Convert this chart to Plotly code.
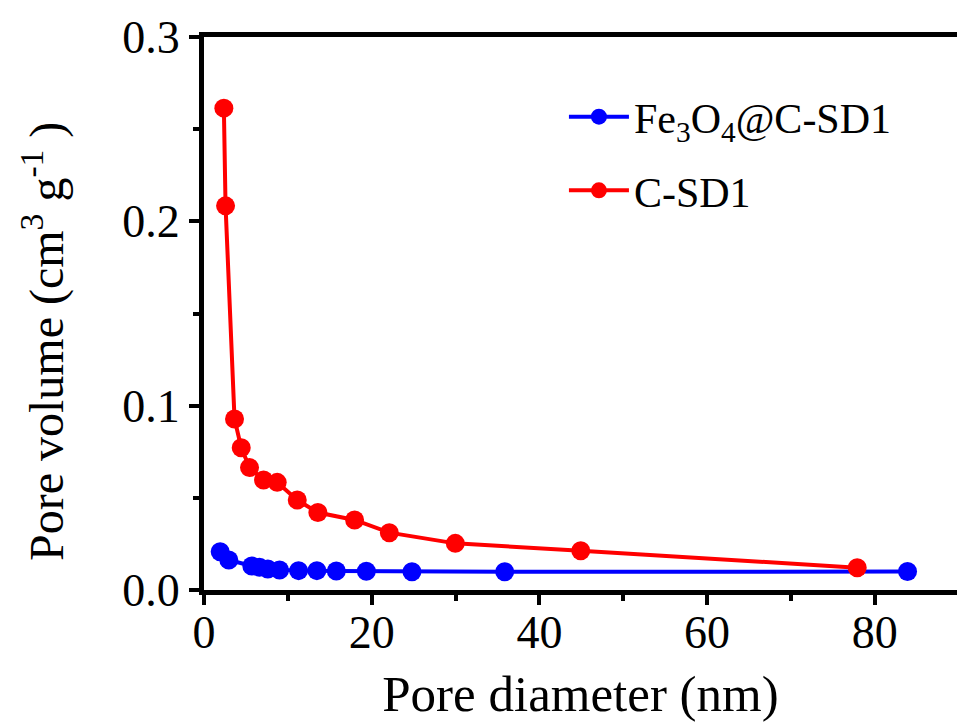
import plotly.graph_objects as go

# Data
fe_x = [1.93, 2.96, 5.70, 6.62, 7.61, 9.01, 11.28, 13.46, 15.78, 19.36, 24.8, 35.86, 83.9]
fe_y = [0.0208, 0.0163, 0.0130, 0.0123, 0.0114, 0.0109, 0.0105, 0.0105, 0.0103, 0.0102, 0.0099, 0.0099, 0.0100]

c_x = [2.37, 2.57, 3.64, 4.44, 5.43, 7.10, 8.73, 11.12, 13.58, 17.96, 22.1, 29.97, 44.93, 77.9]
c_y = [0.2614, 0.2084, 0.0928, 0.0772, 0.0664, 0.0597, 0.0584, 0.0488, 0.0420, 0.0380, 0.0311, 0.0253, 0.0213, 0.0121]

x_ticks = [0, 20, 40, 60, 80]
y_ticks = [0.0, 0.1, 0.2, 0.3]

FONT = "Liberation Serif"

fig = go.Figure()
fig.add_trace(go.Scatter(
    x=fe_x, y=fe_y, mode="lines+markers",
    name="Fe<sub>3</sub>O<sub>4</sub>@C-SD1", legendgroup="a",
    line=dict(color="#0000FF", width=4),
    marker=dict(color="#0000FF", size=19, symbol="circle"),
))
fig.add_trace(go.Scatter(
    x=c_x, y=c_y, mode="lines+markers",
    name="C-SD1", legendgroup="b",
    line=dict(color="#FF0000", width=4),
    marker=dict(color="#FF0000", size=19, symbol="circle"),
))

fig.update_layout(
    width=957, height=722,
    margin=dict(l=204, r=0, t=37, b=132, autoexpand=False),
    paper_bgcolor="white", plot_bgcolor="white",
    font=dict(family=FONT, color="black", size=46),
    showlegend=True,
    legend=dict(
        x=0.478, y=0.917, xanchor="left", yanchor="top",
        bgcolor="rgba(0,0,0,0)", borderwidth=0,
        font=dict(family=FONT, size=42, color="black"),
        traceorder="grouped", tracegroupgap=16,
        itemwidth=60,
    ),
    annotations=[dict(
        text="Pore volume (cm<sup>3</sup>&nbsp;g<sup>-1</sup>&nbsp;)",
        xref="paper", yref="paper", x=-0.214, y=0.45,
        xanchor="center", yanchor="middle", textangle=-90, showarrow=False,
        font=dict(family=FONT, size=48, color="black"),
    )],
)

fig.update_xaxes(
    range=[0, 89.8], automargin=False,
    tickvals=x_ticks, ticktext=[str(v) for v in x_ticks],
    showline=True, linecolor="black", linewidth=5, mirror=True,
    ticks="outside", ticklen=10, tickwidth=4, tickcolor="black",
    minor=dict(dtick=10, tick0=0, ticks="outside", ticklen=6, tickwidth=4, tickcolor="black"),
    showgrid=False, zeroline=False,
    ticklabelstandoff=-12,
    tickfont=dict(family=FONT, size=46, color="black"),
    title=dict(text="Pore diameter (nm)", font=dict(family=FONT, size=51, color="black"), standoff=30),
)
fig.update_yaxes(
    range=[0, 0.3], automargin=False,
    tickvals=y_ticks, ticktext=["%.1f" % v for v in y_ticks],
    showline=True, linecolor="black", linewidth=5, mirror=True,
    ticks="outside", ticklen=10, tickwidth=4, tickcolor="black",
    minor=dict(dtick=0.05, tick0=0, ticks="outside", ticklen=6, tickwidth=4, tickcolor="black"),
    showgrid=False, zeroline=False,
    tickfont=dict(family=FONT, size=46, color="black"),
)

fig.write_html(
    "out.html",
    config={"displayModeBar": False},
    post_script="document.body.style.margin='0';document.body.style.overflow='hidden';",
)
